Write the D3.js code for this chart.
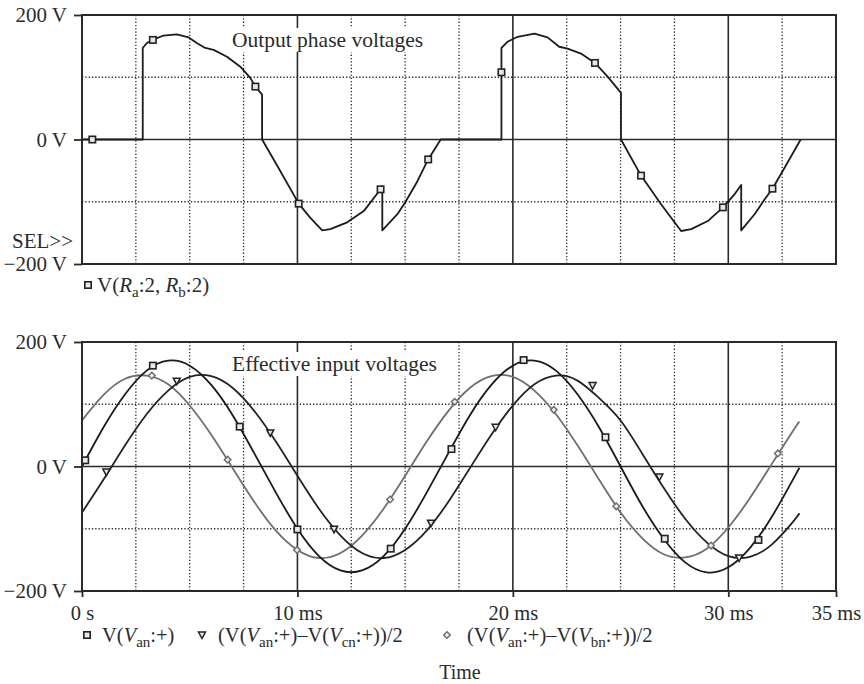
<!DOCTYPE html>
<html>
<head>
<meta charset="utf-8">
<script src="https://cdn.jsdelivr.net/npm/d3@7"></script>
<style>
  body { margin: 0; background: #fff; }
  svg text { font-family: "Liberation Serif", "DejaVu Serif", serif; fill: #2b2b2b; }
</style>
</head>
<body>
<div id="chart"></div>
<script>
// Output phase voltage (top panel) (ms, V)
const outT = [0, 2.82, 2.82, 3.01, 3.29, 3.78, 4.4, 4.95, 5.33, 5.72, 6.11, 6.73, 7.35, 7.81, 8.05, 8.36, 8.36,
  9.21, 10.06, 10.6, 11.15, 11.53, 12.31, 13.08, 13.86, 13.94, 13.94, 14.64, 15.02, 15.57, 16.07, 16.65,
  19.47, 19.47, 19.75, 20.22, 21.0, 21.61, 22.15, 22.54, 23.16, 23.81, 24.4, 25.02, 25.02,
  25.95, 26.88, 27.81, 28.28, 29.05, 29.75, 30.29, 30.6, 30.6, 31.22, 31.69, 32.05, 32.62, 33.36];
const outV = [0, 0, 147, 155, 160, 167, 169, 164, 155, 147, 144, 133, 117, 99, 85, 72, 0,
  -51, -103, -126, -146, -144, -133, -115, -80, -75, -146, -120, -100, -67, -32, 0,
  0, 147, 157, 165, 170, 164, 149, 146, 138, 123, 101, 75, 0,
  -58, -104, -147, -144, -131, -109, -88, -73, -146, -120, -96, -79, -45, 0];
const outMarkT = [0.48, 3.29, 8.05, 10.06, 13.86, 16.07, 19.47, 23.81, 25.95, 29.75, 32.05];
const outMarkV = [0, 160, 85, -103, -80, -32, 108, 123, -58, -109, -79];

// Effective input voltages (bottom panel), sampled each ms
const timeMs = [0, 1, 2, 3, 4, 5, 6, 7, 8, 9, 10, 11, 12, 13, 14, 15, 16, 17, 18, 19, 20,
  21, 22, 23, 24, 25, 26, 27, 28, 29, 30, 31, 32, 33, 33.3];
const vAn = [0, 63, 116, 154, 170, 162, 131, 82, 21, -42, -100, -144, -167, -167, -144, -100, -42, 21, 82, 131, 162,
  170, 154, 116, 63, 0, -63, -116, -154, -170, -162, -131, -82, -21, -2];
const vAnCn = [-74, -21, 34, 84, 122, 144, 145, 126, 89, 40, -15, -68, -111, -139, -147, -134, -103, -57, -3, 51, 98,
  132, 146, 138, 110, 74, 21, -34, -84, -122, -144, -145, -126, -89, -75];
const vAnBn = [74, 115, 141, 146, 132, 98, 51, -3, -57, -103, -134, -147, -139, -111, -68, -15, 40, 89, 126, 145, 144,
  122, 84, 34, -21, -74, -115, -141, -146, -132, -98, -51, 3, 57, 72];

const anMarkT = [0.15, 3.29, 7.32, 10.0, 14.33, 17.15, 20.5, 24.3, 27.05, 31.4];
const anMarkV = [10, 162, 64, -101, -132, 28, 171, 47, -116, -118];
const cnMarkT = [1.13, 4.4, 8.74, 11.7, 16.2, 19.2, 23.7, 26.8, 30.5];
const cnMarkV = [-9, 137, 54, -101, -91, 63, 130, -17, -147];
const bnMarkT = [3.24, 6.76, 9.98, 14.3, 17.3, 21.9, 24.8, 29.2, 32.3];
const bnMarkV = [146, 11, -134, -53, 104, 91, -64, -127, 21];

const xTicks = [0, 10, 20, 30, 35];
const yTicks = [-200, 0, 200];
const gridDotX = [2.5, 5, 7.5, 12.5, 15, 17.5, 22.5, 25, 27.5, 32.5];
const gridSolidX = [10, 20, 30];

const width = 864, height = 684;
const svg = d3.select("#chart").append("svg")
  .attr("width", width).attr("height", height);

const x = d3.scaleLinear().domain([0, 35]).range([82, 836]);
const yTop = d3.scaleLinear().domain([-200, 200]).range([264, 15]);
const yBot = d3.scaleLinear().domain([-200, 200]).range([591, 342]);

const ink = "#2a2a2a";
const fmtV = d => (d < 0 ? "\u2212" + (-d) : d) + " V";

function panel(y, title, titleY) {
  const g = svg.append("g");
  const [y0, y1] = y.range();
  // dotted grid
  g.selectAll(".dx").data(gridDotX).join("line")
    .attr("x1", d => x(d)).attr("x2", d => x(d)).attr("y1", y1).attr("y2", y0)
    .attr("stroke", ink).attr("stroke-width", 1.3).attr("stroke-dasharray", "1.3 2");
  g.selectAll(".dy").data([-100, 100]).join("line")
    .attr("x1", x(0)).attr("x2", x(35)).attr("y1", d => y(d)).attr("y2", d => y(d))
    .attr("stroke", ink).attr("stroke-width", 1.3).attr("stroke-dasharray", "1.3 2");
  // solid grid
  g.selectAll(".sx").data(gridSolidX).join("line")
    .attr("x1", d => x(d)).attr("x2", d => x(d)).attr("y1", y1).attr("y2", y0)
    .attr("stroke", ink).attr("stroke-width", 1.6);
  g.append("line").attr("x1", x(0)).attr("x2", x(35)).attr("y1", y(0)).attr("y2", y(0))
    .attr("stroke", ink).attr("stroke-width", 1.6);

  // title with white background
  const t = g.append("text").attr("x", 232).attr("y", titleY)
    .style("font-size", "21.5px").text(title);
  const bb = t.node().getBBox();
  g.insert("rect", "text").attr("x", bb.x - 2).attr("y", bb.y).attr("width", bb.width + 4)
    .attr("height", bb.height).attr("fill", "#fff");

  // left axis
  const ax = g.append("g").attr("transform", `translate(${x(0)},0)`)
    .call(d3.axisLeft(y).tickValues(yTicks).tickSize(8).tickPadding(7).tickFormat(fmtV));
  ax.select(".domain").remove();
  ax.selectAll("line").attr("stroke", ink).attr("stroke-width", 1.8);
  ax.selectAll("text").attr("fill", ink).style("font-size", "21px").style("font-family", "Liberation Serif");
  return g;
}

const gTop = panel(yTop, "Output phase voltages", 47);
const gBot = panel(yBot, "Effective input voltages", 371);

// bottom time axis
const bx = svg.append("g").attr("transform", `translate(0,${yBot(-200)})`)
  .call(d3.axisBottom(x).tickValues(xTicks).tickSize(6).tickPadding(8)
    .tickFormat(d => d === 0 ? "0 s" : d + " ms"));
bx.select(".domain").remove();
bx.selectAll("line").attr("stroke", ink).attr("stroke-width", 1.8);
bx.selectAll("text").attr("fill", ink).style("font-size", "20.5px").style("font-family", "Liberation Serif");

// curves
const lineTop = d3.line().x(d => x(d[0])).y(d => yTop(d[1]));
gTop.append("path").datum(d3.zip(outT, outV)).attr("d", lineTop)
  .attr("fill", "none").attr("stroke", "#1c1c1c").attr("stroke-width", 1.8).attr("stroke-linejoin", "round");

const lineBot = d3.line().x(d => x(d[0])).y(d => yBot(d[1])).curve(d3.curveNatural);
const series = [
  { v: vAnBn, color: "#6f6f6f" },
  { v: vAnCn, color: "#232323" },
  { v: vAn, color: "#1a1a1a" }
];
series.forEach(s => {
  gBot.append("path").datum(d3.zip(timeMs, s.v)).attr("d", lineBot)
    .attr("fill", "none").attr("stroke", s.color).attr("stroke-width", 1.8);
});

// marker shapes
function square(g, cx, cy, color) {
  g.append("rect").attr("x", cx - 3.2).attr("y", cy - 3.2).attr("width", 6.4).attr("height", 6.4)
    .attr("fill", "#e8e8e8").attr("stroke", color).attr("stroke-width", 1.6);
}
function triangle(g, cx, cy, color) {
  g.append("path").attr("d", `M${cx - 3.5},${cy - 3}L${cx + 3.5},${cy - 3}L${cx},${cy + 3.5}Z`)
    .attr("fill", "#e8e8e8").attr("stroke", color).attr("stroke-width", 1.5);
}
function diamond(g, cx, cy, color) {
  g.append("path").attr("d", `M${cx},${cy - 3.3}L${cx + 3.3},${cy}L${cx},${cy + 3.3}L${cx - 3.3},${cy}Z`)
    .attr("fill", "#eee").attr("stroke", color).attr("stroke-width", 1.5);
}

d3.zip(outMarkT, outMarkV).forEach(d => square(gTop, x(d[0]), yTop(d[1]), "#222"));
d3.zip(bnMarkT, bnMarkV).forEach(d => diamond(gBot, x(d[0]), yBot(d[1]), "#6f6f6f"));
d3.zip(cnMarkT, cnMarkV).forEach(d => triangle(gBot, x(d[0]), yBot(d[1]), "#222"));
d3.zip(anMarkT, anMarkV).forEach(d => square(gBot, x(d[0]), yBot(d[1]), "#222"));

// frames
[yTop, yBot].forEach(y => {
  svg.append("rect").attr("x", x(0)).attr("y", y(200)).attr("width", x(35) - x(0))
    .attr("height", y(-200) - y(200)).attr("fill", "none").attr("stroke", ink).attr("stroke-width", 2);
});

svg.append("text").attr("x", 73).attr("y", 248).attr("text-anchor", "end")
  .style("font-size", "21px").text("SEL>>");

// legends
function legendText(xp, yp, parts, size) {
  const t = svg.append("text").attr("x", xp).attr("y", yp).style("font-size", size + "px");
  parts.forEach(p => {
    const s = t.append("tspan").text(p.t);
    if (p.i) s.style("font-style", "italic");
    if (p.sub) s.attr("dy", 5).style("font-size", "15px");
    if (p.up) s.attr("dy", -5);
  });
}
square(svg, 88, 285, "#222");
legendText(97, 292, [{ t: "V(" }, { t: "R", i: 1 }, { t: "a", sub: 1 }, { t: ":2, ", up: 1 },
  { t: "R", i: 1 }, { t: "b", sub: 1 }, { t: ":2)", up: 1 }], 21);

square(svg, 87, 635, "#222");
legendText(102, 642, [{ t: "V(" }, { t: "V", i: 1 }, { t: "an", sub: 1 }, { t: ":+)", up: 1 }], 20.5);
triangle(svg, 202, 635, "#222");
legendText(218, 642, [{ t: "(V(" }, { t: "V", i: 1 }, { t: "an", sub: 1 }, { t: ":+)\u2013V(", up: 1 },
  { t: "V", i: 1 }, { t: "cn", sub: 1 }, { t: ":+))/2", up: 1 }], 20.5);
diamond(svg, 447, 635, "#6f6f6f");
legendText(467, 642, [{ t: "(V(" }, { t: "V", i: 1 }, { t: "an", sub: 1 }, { t: ":+)\u2013V(", up: 1 },
  { t: "V", i: 1 }, { t: "bn", sub: 1 }, { t: ":+))/2", up: 1 }], 20.5);

svg.append("text").attr("x", 460).attr("y", 679).attr("text-anchor", "middle")
  .style("font-size", "20px").text("Time");
</script>
</body>
</html>
